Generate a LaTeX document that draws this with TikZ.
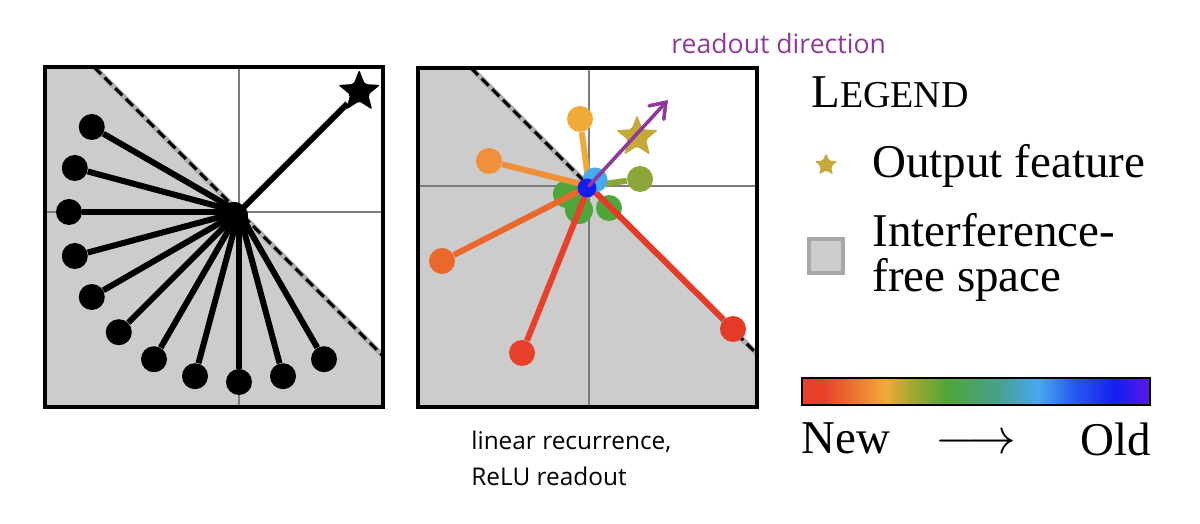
\documentclass[tikz,border=0pt]{standalone}
\usepackage{fontspec}
\setmainfont{Liberation Serif}
\newfontfamily\notefont{Open Sans}
\usepackage{tikz}
\usetikzlibrary{positioning,shapes.geometric,arrows.meta}

\definecolor{shadegray}{RGB}{204,204,204}
\definecolor{gridgray}{RGB}{125,125,125}
\definecolor{halogray}{RGB}{175,175,175}
\definecolor{boxgray}{RGB}{168,168,168}
\definecolor{newred}{RGB}{232,64,42}
\definecolor{agered}{RGB}{228,58,40}
\definecolor{ageredorange}{RGB}{235,104,44}
\definecolor{ageorange}{RGB}{240,144,56}
\definecolor{ageyellow}{RGB}{240,170,56}
\definecolor{ageolive}{RGB}{140,166,58}
\definecolor{agegreen}{RGB}{78,166,58}
\definecolor{ageteal}{RGB}{72,160,140}
\definecolor{agesky}{RGB}{72,168,240}
\definecolor{agebluebar}{RGB}{40,90,240}
\definecolor{ageblue}{RGB}{20,30,240}
\definecolor{ageviolet}{RGB}{90,24,232}
\definecolor{barolive}{RGB}{160,168,48}
\definecolor{featgold}{RGB}{196,170,56}
\definecolor{readpurple}{RGB}{142,58,154}

\pgfdeclarehorizontalshading{newold}{100bp}{%
  color(0bp)=(newred); color(25bp)=(newred); color(28bp)=(newred);
  color(37bp)=(ageyellow); color(41bp)=(barolive);
  color(46bp)=(agegreen); color(53bp)=(ageteal);
  color(59bp)=(agesky); color(64bp)=(agebluebar);
  color(70bp)=(ageblue); color(75bp)=(ageviolet); color(100bp)=(ageviolet)}

\newcommand\legendsize{\fontsize{23.5}{22.5}\selectfont}
\newcommand\notesize{\notefont\fontsize{12.2}{18}\selectfont}

\tikzset{
  dot/.style={circle, fill, inner sep=0pt, minimum size=13pt},
  spoke/.style={line width=3pt},
  featstar/.style={star, star points=5, star point ratio=2.3, inner sep=0pt,
    minimum size=22pt, rounded corners=1pt},
  gridline/.style={gridgray, line width=1.2pt},
  frame/.style={line width=1.8pt},
  halo/.style={halogray, line width=2.8pt},
  boundary/.style={line width=1.5pt, dash pattern=on 5pt off 2.5pt},
  readout/.style={readpurple, line width=1.8pt, line cap=round,
    -{Straight Barb[length=7pt, width=10pt, line cap=round]}},
}

\begin{document}
\begin{tikzpicture}[x=0.5pt, y=0.5pt]
  \useasboundingbox (0,0) rectangle (1200,524);

  % Panel 1: fan of old features, output feature top right
  \begin{scope}[shift={(239,312)}]
    \fill[shadegray] (-194,145) -- (-145,145) -- (144,-144) -- (144,-195) -- (-194,-195) -- cycle;
    \draw[gridline] (-194,0) -- (144,0);
    \draw[gridline] (0,-195) -- (0,145);
    \draw[halo] (-145,145) -- (144,-144);
    \draw[boundary] (-145,145) -- (144,-144);

    \coordinate (a0) at (0,0);
    \node[dot] (a1) at (150:170) {};
    \node[dot] (a2) at (165:170) {};
    \node[dot] (a3) at (180:170) {};
    \node[dot] (a4) at (195:170) {};
    \node[dot] (a5) at (210:170) {};
    \node[dot] (a6) at (225:170) {};
    \node[dot] (a7) at (240:170) {};
    \node[dot] (a8) at (255:170) {};
    \node[dot] (a9) at (270:170) {};
    \node[dot] (a10) at (285:170) {};
    \node[dot] (a11) at (300:170) {};
    \node[featstar, fill=black] (astar) at (45:170) {};
    \node[dot, minimum size=14pt] (ahub) at (-5,-4) {};

    \draw[spoke] (a0) -- (a1);
    \draw[spoke] (a0) -- (a2);
    \draw[spoke] (a0) -- (a3);
    \draw[spoke] (a0) -- (a4);
    \draw[spoke] (a0) -- (a5);
    \draw[spoke] (a0) -- (a6);
    \draw[spoke] (a0) -- (a7);
    \draw[spoke] (a0) -- (a8);
    \draw[spoke] (a0) -- (a9);
    \draw[spoke] (a0) -- (a10);
    \draw[spoke] (a0) -- (a11);
    \draw[spoke] (a0) -- (astar);

    \draw[frame] (-194,-195) rectangle (144,145);
  \end{scope}

  % Panel 2: linear recurrence, ReLU readout
  \begin{scope}[shift={(589,338)}]
    \fill[shadegray] (-171,118) -- (-118,118) -- (168,-168) -- (168,-221) -- (-171,-221) -- cycle;
    \draw[gridline] (-171,0) -- (168,0);
    \draw[gridline] (0,-221) -- (0,118);
    \draw[halo] (-118,118) -- (168,-168);
    \draw[boundary] (-118,118) -- (168,-168);

    \coordinate (b0) at (0,0);
    \node[dot, fill=agegreen, minimum size=14pt] (b7) at (-22,-8) {};
    \node[dot, fill=agegreen, minimum size=14pt] (b8) at (-10,-24) {};
    \node[dot, fill=agegreen] (b9) at (20,-22) {};
    \node[dot, fill=ageyellow] (b1) at (-9,67) {};
    \node[dot, fill=ageorange] (b2) at (-100,25) {};
    \node[dot, fill=ageredorange] (b3) at (-147,-75) {};
    \node[dot, fill=newred] (b4) at (-67,-167) {};
    \node[dot, fill=agered] (b5) at (144,-143) {};
    \node[dot, fill=ageolive] (b6) at (51,7) {};
    \node[featstar, fill=featgold] (bstar) at (48,49) {};
    \coordinate (bread) at (79,86);

    \draw[spoke, ageyellow] (b0) -- (b1);
    \draw[spoke, ageorange] (b0) -- (b2);
    \draw[spoke, ageredorange] (b0) -- (b3);
    \draw[spoke, newred] (b0) -- (b4);
    \draw[spoke, agered] (b0) -- (b5);
    \draw[spoke, ageolive] (b0) -- (b6);

    \node[dot, fill=agesky, minimum size=12.5pt] (b10) at (6,6) {};
    \node[dot, fill=ageblue, minimum size=9.5pt] (b11) at (-2,-2) {};

    \draw[readout] (b0) -- (bread);

    \draw[frame] (-171,-221) rectangle (168,118);
  \end{scope}

  \node[anchor=base west, inner sep=0pt, font=\notefont\fontsize{13.3}{16}\selectfont, text=readpurple] (readlabel) at (671,470) {readout direction};
  \node[anchor=north west, inner sep=0pt, align=left, font=\notesize] (caption) at (471,93) {linear recurrence,\\ReLU readout};

  % Legend
  \node[anchor=base west, inner sep=0pt] (legend) at (811,416)
    {\fontsize{23.5}{24}\selectfont L\fontsize{19}{20}\selectfont EGEND};
  \node[featstar, fill=featgold, minimum size=12pt] (kstar) at (826,359) {};
  \node[anchor=base west, inner sep=0pt, font=\legendsize] (kfeat) at (872,346) {Output feature};
  \node[draw=boxgray, fill=shadegray, line width=2pt, minimum size=17pt, inner sep=0pt] (kspace) at (826,268) {};
  \node[anchor=north west, inner sep=0pt, align=left, font=\legendsize] (kfree) at (872,311) {Interference-\\free space};

  % Colour bar
  \node[shade, shading=newold, draw, line width=1.2pt, minimum width=174pt,
    minimum height=13.5pt, inner sep=0pt] (cbar) at (976,132.5) {};
  \node[below=8pt of cbar.south west, anchor=north west, inner sep=0pt, font=\legendsize] (new) {New};
  \node[below=8pt of cbar.south east, anchor=north east, inner sep=0pt, font=\legendsize] (old) {Old};
  \node[anchor=base, inner sep=0pt, font=\legendsize] (arrow) at (new.base -| cbar.south) {$\longrightarrow$};
\end{tikzpicture}
\end{document}
